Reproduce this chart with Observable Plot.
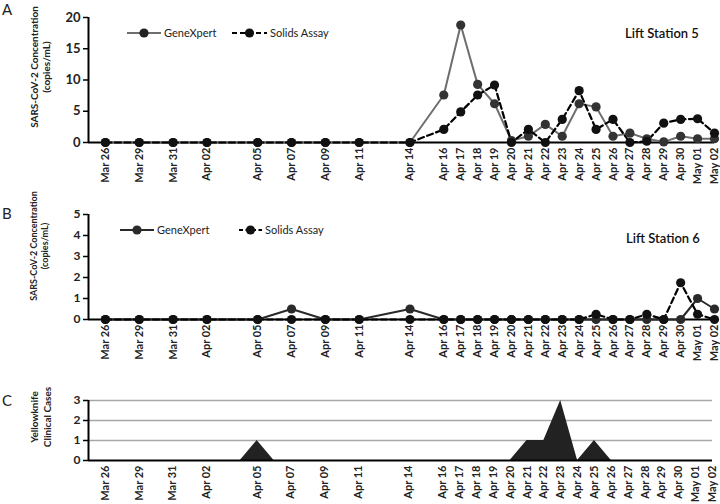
<!DOCTYPE html>
<html>
<head>
<meta charset="utf-8">
<script src="https://cdn.jsdelivr.net/npm/d3@7"></script>
<script src="https://cdn.jsdelivr.net/npm/@observablehq/plot@0.6"></script>
<style>
  html, body { margin: 0; padding: 0; background: #fff; }
  #wrap { position: relative; width: 720px; height: 504px; overflow: hidden; font-family: Lato, "Open Sans", sans-serif; }
  #wrap > svg { position: absolute; left: 0; }
</style>
</head>
<body>
<div id="wrap"></div>
<script>
// Category slots of the x axis (blank = unlabeled slot)
const axisLabels = ["Mar 26","","Mar 29","","Mar 31","","Apr 02","","","Apr 05","","Apr 07","","Apr 09","","Apr 11","","","Apr 14","","Apr 16","Apr 17","Apr 18","Apr 19","Apr 20","Apr 21","Apr 22","Apr 23","Apr 24","Apr 25","Apr 26","Apr 27","Apr 28","Apr 29","Apr 30","May 01","May 02"];

// Sampling dates
const sampleDates = ["Mar 26","Mar 29","Mar 31","Apr 02","Apr 05","Apr 07","Apr 09","Apr 11","Apr 14","Apr 16","Apr 17","Apr 18","Apr 19","Apr 20","Apr 21","Apr 22","Apr 23","Apr 24","Apr 25","Apr 26","Apr 27","Apr 28","Apr 29","Apr 30","May 01","May 02"];

// Lift Station 5 (copies/mL)
const ls5GeneXpert = [0,0,0,0,0,0,0,0,0, 7.6,18.8,9.3,6.2,0.3,1.0,2.9,1.0,6.2,5.7,1.0,1.5,0.6,0.1,1.0,0.6,0.6];
const ls5Solids    = [0,0,0,0,0,0,0,0,0, 2.1,4.9,7.6,9.2,0.0,2.1,0.0,3.7,8.3,2.1,3.7,0.0,0.2,3.1,3.7,3.8,1.5];

// Lift Station 6 (copies/mL)
const ls6GeneXpert = [0,0,0,0,0,0.5,0,0,0.5, 0,0,0,0,0,0,0,0,0,0,0,0,0,0,0,1.0,0.5];
const ls6Solids    = [0,0,0,0,0,0,0,0,0, 0,0,0,0,0,0,0,0,0,0.25,0,0,0.25,0,1.75,0.25,0];

// Yellowknife clinical cases per axis slot
const clinicalCases = [0,0,0,0,0,0,0,0,0,1,0,0,0,0,0,0,0,0,0,0,0,0,0,0,0,1,1,3,0,1,0,0,0,0,0,0,0];

const yTicksA = [0,5,10,15,20];
const yTicksB = [0,1,2,3,4,5];
const yTicksC = [0,1,2,3];

// ---------- helpers ----------
const slotIndex = d => axisLabels.indexOf(d);
const labeledSlots = axisLabels.map((l,i) => l ? i : null).filter(i => i !== null);
const series = (vals, name) => sampleDates.map((d,i) => ({slot: slotIndex(d), value: vals[i], series: name}));
const FONT = "Lato, 'Open Sans', sans-serif";

function axes(yTicks, yFont) {
  return [
    Plot.axisY({ticks: yTicks, label: null, tickSize: 5, tickPadding: 3, tickFormat: d => d, fontSize: yFont, fontWeight: "bold", stroke: "#000", strokeWidth: 1.5, fill: "#222"}),
    Plot.axisX({ticks: labeledSlots, label: null, tickFormat: i => axisLabels[i], tickRotate: -90, tickSize: 0, tickPadding: 5, fontSize: 11, fontWeight: "bold", fill: "#222"}),
    Plot.ruleX([-1], {stroke: "#000", strokeWidth: 2}),
  ];
}

function linePanel(gx, solids, yDomain, yTicks, geneColor, geneDot, top, height, mt, mb, yFont) {
  const g = series(gx, "GeneXpert"), s = series(solids, "Solids Assay");
  const p = Plot.plot({
    width: 720, height, marginLeft: 88, marginRight: 6, marginTop: mt, marginBottom: mb,
    style: {fontFamily: FONT, background: "transparent", overflow: "visible"},
    x: {domain: [-1, 36], axis: null, label: null},
    y: {domain: yDomain, axis: null, label: null},
    marks: [
      ...axes(yTicks, yFont),
      Plot.ruleY([0], {stroke: "#000", strokeWidth: 2}),
      Plot.line(g, {x: "slot", y: "value", stroke: geneColor, strokeWidth: 2}),
      Plot.line(s, {x: "slot", y: "value", stroke: "#000", strokeWidth: 2.2, strokeDasharray: "6,3.5"}),
      Plot.dot(g, {x: "slot", y: "value", r: 4.6, fill: geneDot}),
      Plot.dot(s, {x: "slot", y: "value", r: 4.6, fill: "#111"}),
    ]
  });
  p.style.top = top + "px";
  return p;
}

const wrap = document.getElementById("wrap");
wrap.appendChild(linePanel(ls5GeneXpert, ls5Solids, [0,20], yTicksA, "#6e6e6e", "#333", 0, 188, 17, 46, 13));
wrap.appendChild(linePanel(ls6GeneXpert, ls6Solids, [0,5], yTicksB, "#2a2a2a", "#2a2a2a", 188, 177, 26, 46, 12));

const slots = clinicalCases.map((v,i) => ({slot: i, cases: v}));
const pc = Plot.plot({
  width: 720, height: 139, marginLeft: 88, marginRight: 8, marginTop: 35, marginBottom: 44,
  style: {fontFamily: FONT, background: "transparent", overflow: "visible"},
  x: {domain: [-1, 36], axis: null, label: null},
  y: {domain: [0,3], axis: null, label: null},
  marks: [
    Plot.ruleY([1,2,3], {stroke: "#a8a8a8", strokeWidth: 1.5}),
    Plot.areaY(slots, {x: "slot", y: "cases", fill: "#222", curve: "linear"}),
    ...axes(yTicksC, 12),
    Plot.ruleY([0], {stroke: "#000", strokeWidth: 2}),
  ]
});
pc.style.top = "365px";
wrap.appendChild(pc);

// ---------- overlay: panel letters, axis titles, legends ----------
const ov = d3.select(wrap).append("svg")
  .attr("width", 720).attr("height", 504)
  .style("top", "0px").style("pointer-events", "none")
  .style("font-family", FONT);

[["A", 15], ["B", 219], ["C", 406]].forEach(([t, y]) =>
  ov.append("text").attr("x", 2).attr("y", y).attr("font-size", 15).attr("fill", "#222").text(t));

function yTitle(lines, cy, size, xs) {
  lines.forEach((t, i) =>
    ov.append("text").attr("transform", `translate(${xs[i]},${cy}) rotate(-90)`)
      .attr("text-anchor", "middle").attr("font-size", size).attr("font-weight", "bold")
      .attr("fill", "#222").text(t));
}
yTitle(["SARS-CoV-2 Concentration", "(copies/mL)"], 67, 10, [38, 50]);
yTitle(["SARS-CoV-2 Concentration", "(copies/mL)"], 246, 9, [37, 48]);
yTitle(["Yellowknife", "Clinical Cases"], 417, 10, [38, 51]);

function legendItem(x1, x2, y, color, dash, dotFill, label) {
  ov.append("line").attr("x1", x1).attr("x2", x2).attr("y1", y).attr("y2", y)
    .attr("stroke", color).attr("stroke-width", 2).attr("stroke-dasharray", dash);
  ov.append("circle").attr("cx", (x1 + x2) / 2).attr("cy", y).attr("r", 4.6).attr("fill", dotFill);
  ov.append("text").attr("x", x2 + 3).attr("y", y + 4).attr("font-size", 11).attr("fill", "#222").text(label);
}
legendItem(127, 161, 33, "#6e6e6e", null, "#222", "GeneXpert");
legendItem(232, 267, 33, "#000", "5,3", "#111", "Solids Assay");
legendItem(120, 154, 230, "#2a2a2a", null, "#2a2a2a", "GeneXpert");
legendItem(239, 262, 230, "#000", "4,2.5", "#111", "Solids Assay");

ov.append("text").attr("x", 625).attr("y", 38).attr("font-size", 13).attr("font-weight", 600).attr("fill", "#111").text("Lift Station 5");
ov.append("text").attr("x", 626).attr("y", 243).attr("font-size", 13).attr("font-weight", 600).attr("fill", "#111").text("Lift Station 6");
</script>
</body>
</html>
